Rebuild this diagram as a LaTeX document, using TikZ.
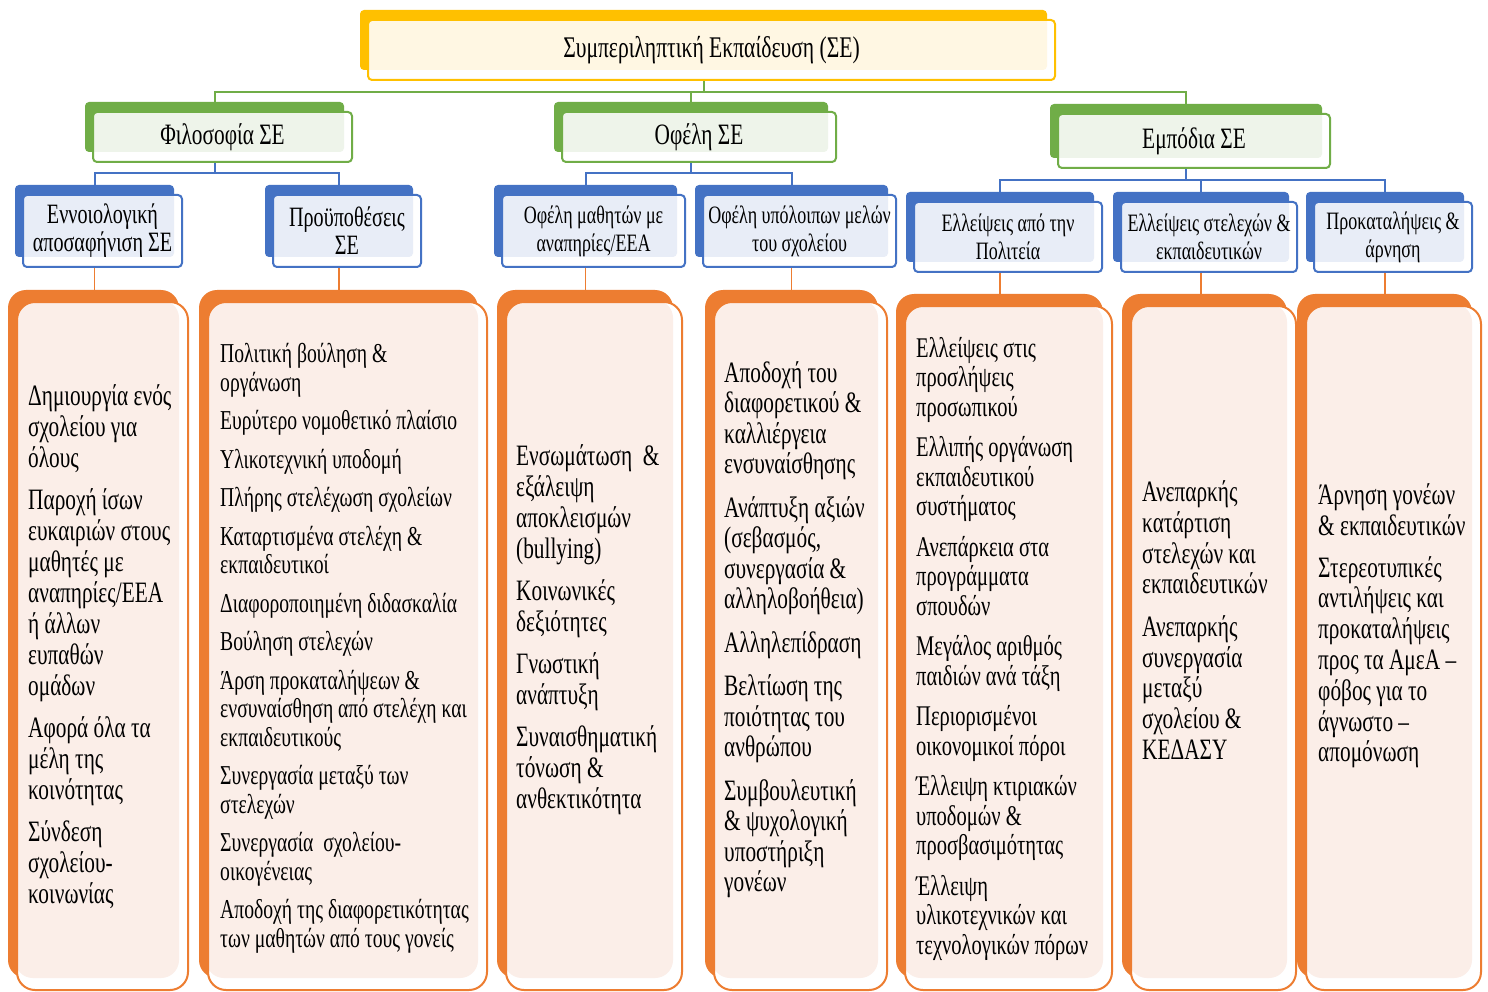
\documentclass[tikz,border=0pt]{standalone}
\usepackage{fontspec}
\setmainfont[FakeStretch=0.72]{Liberation Serif}
\usetikzlibrary{backgrounds}
\definecolor{gold}{HTML}{FFC000}
\definecolor{goldl}{HTML}{FFF7E3}
\definecolor{grn}{HTML}{70AD47}
\definecolor{grnl}{HTML}{EEF4EA}
\definecolor{blu}{HTML}{4472C4}
\definecolor{blul}{HTML}{E8EDF7}
\definecolor{org}{HTML}{ED7D31}
\definecolor{orgl}{HTML}{FBEEE8}
\tikzset{
  twobox/.style n args={4}{draw=#1, line width=2pt, fill=white, inner sep=0pt, align=center,
    preaction={fill=#1, draw=none, transform canvas={shift={(#3,#4)}}},
    path picture={\fill[#2] ([shift={(-2pt,2pt)}]path picture bounding box.north west) rectangle ([shift={(#3,#4)}]path picture bounding box.south east);}},
  topbox/.style={twobox={gold}{goldl}{-8pt}{10pt}, rounded corners=4pt, font=\fontsize{30}{34}\selectfont},
  gbox/.style={twobox={grn}{grnl}{-8pt}{10pt}, rounded corners=4pt, font=\fontsize{29.6}{34}\selectfont},
  bbox/.style={twobox={blu}{blul}{-8pt}{10pt}, rounded corners=4pt, font=\fontsize{25}{28}\selectfont},
  bbig/.style={font=\fontsize{28}{28}\selectfont},
  obox/.style={twobox={org}{orgl}{-9pt}{12pt}, rounded corners=18pt},
  otext/.style={anchor=west, align=left, inner sep=0pt},
  gline/.style={draw=grn, line width=2pt},
  bline/.style={draw=blu, line width=2pt},
  oline/.style={draw=org, line width=1.5pt},
}
\begin{document}
\begin{tikzpicture}[x=1pt, y=-1pt]
\useasboundingbox (0,0) rectangle (1488,992);
% level 1
\node[topbox, minimum width=687pt, minimum height=60pt] (top) at (711.5,50) {\raisebox{-3pt}{Συμπεριληπτική Εκπαίδευση (ΣΕ)}};
% level 2
\node[gbox, minimum width=259pt, minimum height=50pt] (phil) at (222.5,137) {\raisebox{-3pt}{Φιλοσοφία ΣΕ}};
\node[gbox, minimum width=274pt, minimum height=50pt] (ob) at (699,137) {\raisebox{-3pt}{Οφέλη ΣΕ}};
\node[gbox, minimum width=272pt, minimum height=54pt] (emp) at (1194,141) {\raisebox{-2pt}{Εμπόδια ΣΕ}};
% level 3
\node[bbox, bbig, minimum width=159pt, minimum height=72pt] (b1) at (102.5,231) {Εννοιολογική\\αποσαφήνιση ΣΕ};
\node[bbox, bbig, minimum width=148pt, minimum height=72pt] (b2) at (347,231) {Προϋποθέσεις\\ΣΕ};
\node[bbox, minimum width=183pt, minimum height=72pt] (b3) at (593.5,231) {Οφέλη μαθητών με\\αναπηρίες/ΕΕΑ};
\node[bbox, minimum width=193pt, minimum height=72pt] (b4) at (799.5,231) {Οφέλη υπόλοιπων μελών\\του σχολείου};
\node[bbox, minimum width=188pt, minimum height=70pt] (b5) at (1008,237) {Ελλείψεις από την\\Πολιτεία};
\node[bbox, minimum width=176pt, minimum height=70pt] (b6) at (1209,237) {Ελλείψεις στελεχών \&\\εκπαιδευτικών};
\node[bbox, minimum width=158pt, minimum height=70pt] (b7) at (1393,237) {Προκαταλήψεις \&\\άρνηση};
% level 4 boxes
\node[obox, minimum width=171pt, minimum height=688pt] (o1) at (102.5,646) {};
\node[obox, minimum width=279pt, minimum height=688pt] (o2) at (347.5,646) {};
\node[obox, minimum width=176pt, minimum height=688pt] (o3) at (594,646) {};
\node[obox, minimum width=173pt, minimum height=688pt] (o4) at (800.5,646) {};
\node[obox, minimum width=207pt, minimum height=684pt] (o5) at (1008.5,648) {};
\node[obox, minimum width=165pt, minimum height=684pt] (o6) at (1213.5,648) {};
\node[obox, minimum width=175pt, minimum height=684pt] (o7) at (1393.5,648) {};
% texts
\node[otext, font=\fontsize{29.6}{31}\selectfont] (t1) at (28,647) {Δημιουργία ενός\\σχολείου για\\όλους\\[11pt]Παροχή ίσων\\ευκαιριών στους\\μαθητές με\\αναπηρίες/ΕΕΑ\\ή άλλων\\ευπαθών\\ομάδων\\[11pt]Αφορά όλα τα\\μέλη της\\κοινότητας\\[11pt]Σύνδεση\\σχολείου-\\κοινωνίας};
\node[otext, font=\fontsize{27.3}{28.5}\selectfont] (t2) at (220,648.5) {Πολιτική βούληση \&\\οργάνωση\\[10pt]Ευρύτερο νομοθετικό πλαίσιο\\[10pt]Υλικοτεχνική υποδομή\\[10pt]Πλήρης στελέχωση σχολείων\\[10pt]Καταρτισμένα στελέχη \&\\εκπαιδευτικοί\\[10pt]Διαφοροποιημένη διδασκαλία\\[10pt]Βούληση στελεχών\\[10pt]Άρση προκαταλήψεων \&\\ενσυναίσθηση από στελέχη και\\εκπαιδευτικούς\\[10pt]Συνεργασία μεταξύ των\\στελεχών\\[10pt]Συνεργασία\ \ σχολείου-\\οικογένειας\\[10pt]Αποδοχή της διαφορετικότητας\\των μαθητών από τους γονείς};
\node[otext, font=\fontsize{29.6}{31}\selectfont] (t3) at (516,629.5) {Ενσωμάτωση\ \ \&\\εξάλειψη\\αποκλεισμών\\(bullying)\\[11pt]Κοινωνικές\\δεξιότητες\\[11pt]Γνωστική\\ανάπτυξη\\[11pt]Συναισθηματική\\τόνωση \&\\ανθεκτικότητα};
\node[otext, font=\fontsize{29.6}{30.5}\selectfont] (t4) at (724,629.5) {Αποδοχή του\\διαφορετικού \&\\καλλιέργεια\\ενσυναίσθησης\\[13pt]Ανάπτυξη αξιών\\(σεβασμός,\\συνεργασία \&\\αλληλοβοήθεια)\\[13pt]Αλληλεπίδραση\\[13pt]Βελτίωση της\\ποιότητας του\\ανθρώπου\\[13pt]Συμβουλευτική\\\& ψυχολογική\\υποστήριξη\\γονέων};
\node[otext, font=\fontsize{28.5}{29.5}\selectfont] (t5) at (916,648.5) {Ελλείψεις στις\\προσλήψεις\\προσωπικού\\[11pt]Ελλιπής οργάνωση\\εκπαιδευτικού\\συστήματος\\[11pt]Ανεπάρκεια στα\\προγράμματα\\σπουδών\\[11pt]Μεγάλος αριθμός\\παιδιών ανά τάξη\\[11pt]Περιορισμένοι\\οικονομικοί πόροι\\[11pt]Έλλειψη κτιριακών\\υποδομών \&\\προσβασιμότητας\\[11pt]Έλλειψη\\υλικοτεχνικών και\\τεχνολογικών πόρων};
\node[otext, font=\fontsize{29.6}{30.7}\selectfont] (t6) at (1142,620) {Ανεπαρκής\\κατάρτιση\\στελεχών και\\εκπαιδευτικών\\[12pt]Ανεπαρκής\\συνεργασία\\μεταξύ\\σχολείου \&\\ΚΕΔΑΣΥ};
\node[otext, font=\fontsize{29.6}{30.8}\selectfont] (t7) at (1318,626) {Άρνηση γονέων\\\& εκπαιδευτικών\\[11pt]Στερεοτυπικές\\αντιλήψεις και\\προκαταλήψεις\\προς τα ΑμεΑ –\\φόβος για το\\άγνωστο –\\απομόνωση};
% connectors
\begin{pgfonlayer}{background}
\fill[white] (0,0) rectangle (1488,992);
\coordinate (bus1) at (0,92);
\coordinate (bus2) at (0,173);
\coordinate (bus3) at (0,180);
\draw[gline] ([xshift=-8pt]top.south) -- ([xshift=-8pt]top.south |- bus1);
\draw[gline] ([xshift=-8pt]phil.north) -- ([xshift=-8pt]phil.north |- bus1) -- ([xshift=-8pt]emp.north |- bus1) -- ([xshift=-8pt]emp.north);
\draw[gline] ([xshift=-8pt]ob.north) -- ([xshift=-8pt]ob.north |- bus1);
\draw[bline] ([xshift=-8pt]phil.south) -- ([xshift=-8pt]phil.south |- bus2);
\draw[bline] ([xshift=-8pt]b1.north) -- ([xshift=-8pt]b1.north |- bus2) -- ([xshift=-8pt]b2.north |- bus2) -- ([xshift=-8pt]b2.north);
\draw[bline] ([xshift=-8pt]ob.south) -- ([xshift=-8pt]ob.south |- bus2);
\draw[bline] ([xshift=-8pt]b3.north) -- ([xshift=-8pt]b3.north |- bus2) -- ([xshift=-8pt]b4.north |- bus2) -- ([xshift=-8pt]b4.north);
\draw[bline] ([xshift=-8pt]emp.south) -- ([xshift=-8pt]emp.south |- bus3);
\draw[bline] ([xshift=-8pt]b5.north) -- ([xshift=-8pt]b5.north |- bus3) -- ([xshift=-8pt]b7.north |- bus3) -- ([xshift=-8pt]b7.north);
\draw[bline] ([xshift=-8pt]b6.north) -- ([xshift=-8pt]b6.north |- bus3);
\foreach \b/\o in {b1/o1,b2/o2,b3/o3,b4/o4,b5/o5,b6/o6,b7/o7}
  \draw[oline] ([xshift=-8pt]\b.south) -- ([xshift=-8pt]\b.south |- \o.north);
\end{pgfonlayer}
\end{tikzpicture}
\end{document}
